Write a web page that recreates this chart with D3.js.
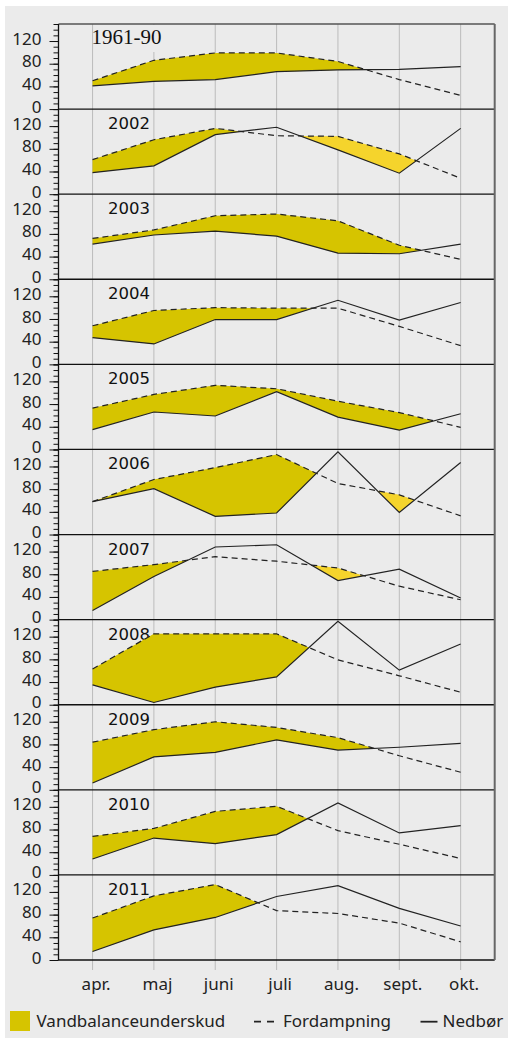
<!DOCTYPE html>
<html>
<head>
<meta charset="utf-8">
<script src="https://cdn.jsdelivr.net/npm/d3@7"></script>
<style>
  body { margin: 0; background: #fff; }
  svg { display: block; }
</style>
</head>
<body>
<svg id="chart" width="508" height="1043"></svg>
<script>
// months on the x axis
var months = ["apr.", "maj", "juni", "juli", "aug.", "sept.", "okt."];

// one panel per period
var periods = ["1961-90", "2002", "2003", "2004", "2005", "2006", "2007", "2008", "2009", "2010", "2011"];

// Fordampning (mm), one row per period
var evaporation = [
  [50, 86, 99, 99, 84, 52, 24],
  [61, 96, 116, 103, 102, 71, 28],
  [72, 87, 112, 115, 103, 60, 35],
  [68, 95, 100, 99, 99, 67, 33],
  [73, 97, 113, 107, 85, 65, 39],
  [58, 97, 118, 141, 90, 70, 33],
  [85, 97, 111, 103, 91, 59, 35],
  [63, 125, 125, 125, 79, 51, 22],
  [84, 106, 120, 110, 92, 60, 31],
  [68, 82, 112, 121, 78, 54, 29],
  [74, 113, 133, 87, 82, 65, 32]
];

// Nedbør (mm), one row per period
var precipitation = [
  [41, 49, 52, 66, 69, 70, 75],
  [38, 50, 105, 118, 78, 37, 116],
  [62, 78, 85, 76, 46, 45, 62],
  [47, 36, 79, 79, 113, 78, 109],
  [35, 66, 59, 102, 57, 34, 63],
  [58, 81, 32, 38, 146, 39, 127],
  [16, 76, 128, 132, 69, 89, 38],
  [35, 4, 31, 49, 147, 61, 107],
  [12, 58, 66, 88, 70, 75, 82],
  [28, 65, 55, 71, 127, 74, 87],
  [15, 53, 75, 112, 131, 91, 60]
];

var yLabels = [0, 40, 80, 120];

var legendItems = ["Vandbalanceunderskud", "Fordampning", "Nedbør"];

// layout (note: "top" is taken by window.top, so plot* names)
var plotLeft = 58.5, plotRight = 494.7, plotTop = 24, plotBottom = 960
  , panelH = (plotBottom - plotTop) / periods.length
  , bg = "#ebebeb"
  , darkFill = "#d6c400"
  , lightFill = "#f5d42c"
  , font = "'Noto Sans', sans-serif";

var svg = d3.select("#chart");

svg.append("rect")
    .attr("x", 5).attr("y", 6)
    .attr("width", 503).attr("height", 1032)
    .attr("fill", bg);

var x = d3.scalePoint()
    .domain(months)
    .range([plotLeft, plotRight])
    .padding(0.555);

// fractional month index -> pixel (for crossing points)
function xAt(i) {
  return x(months[0]) + i * x.step();
}

// split the curves into polygons where evaporation > precipitation
function deficitAreas(ev, pr) {
  var polys = [], cur = null;
  for (var i = 0; i < ev.length; i++) {
    var d = ev[i] - pr[i];
    if (d >= 0) {
      if (!cur) cur = [];
      cur.push({i: i, e: ev[i], p: pr[i]});
    }
    if (i < ev.length - 1) {
      var d2 = ev[i + 1] - pr[i + 1];
      if ((d >= 0) !== (d2 >= 0)) {
        var t = d / (d - d2);
        var v = ev[i] + t * (ev[i + 1] - ev[i]);
        var pt = {i: i + t, e: v, p: v};
        if (d >= 0) { cur.push(pt); polys.push(cur); cur = null; }
        else { cur = [pt]; }
      }
    }
  }
  if (cur) polys.push(cur);
  return polys;
}

// vertical grid lines through all panels
svg.append("g").selectAll("line")
    .data(months)
   .enter().append("line")
    .attr("x1", function(d) { return x(d); })
    .attr("x2", function(d) { return x(d); })
    .attr("y1", plotTop).attr("y2", plotBottom + 10)
    .attr("stroke", "#bcbcbc")
    .attr("stroke-width", 1);

periods.forEach(function(name, k) {
  var y0 = plotTop + (k + 1) * panelH
    , y = d3.scaleLinear().domain([0, 150]).range([y0, y0 - panelH]);

  var g = svg.append("g").attr("class", "panel");

  // period label with a background patch
  var label = g.append("text")
      .attr("x", k === 0 ? 91.5 : 108)
      .attr("y", y0 - panelH + 20)
      .attr("font-family", k === 0 ? "'Liberation Serif', serif" : "'DejaVu Sans', sans-serif")
      .attr("font-size", k === 0 ? 21 : 16.5)
      .attr("fill", "#111")
      .text(name);
  var bb = label.node().getBBox();
  g.insert("rect", "text")
      .attr("x", bb.x + 3).attr("y", bb.y)
      .attr("width", bb.width).attr("height", bb.height + 3)
      .attr("fill", bg);

  // deficit fill
  var area = d3.area()
      .x(function(d) { return xAt(d.i); })
      .y0(function(d) { return y(d.p); })
      .y1(function(d) { return y(d.e); });

  g.selectAll("path.deficit")
      .data(deficitAreas(evaporation[k], precipitation[k]))
     .enter().append("path")
      .attr("class", "deficit")
      .attr("fill", function(d, i) { return i === 0 ? darkFill : lightFill; })
      .attr("d", area);

  var line = d3.line()
      .x(function(d, i) { return x(months[i]); })
      .y(function(d) { return y(d); });

  g.append("path")
      .attr("d", line(evaporation[k]))
      .attr("fill", "none")
      .attr("stroke", "#222")
      .attr("stroke-width", 1.2)
      .attr("stroke-dasharray", "6,4");

  g.append("path")
      .attr("d", line(precipitation[k]))
      .attr("fill", "none")
      .attr("stroke", "#222")
      .attr("stroke-width", 1.2);

  // minor + major ticks on the left
  var minor = g.append("g")
      .attr("transform", "translate(" + plotLeft + ",0)")
      .call(d3.axisLeft(y).tickValues(d3.range(0, 151, 10)).tickSize(5).tickFormat(""));
  minor.select(".domain").remove();

  var major = g.append("g")
      .attr("transform", "translate(" + plotLeft + ",0)")
      .call(d3.axisLeft(y).tickValues(yLabels).tickSize(9).tickPadding(8));
  major.select(".domain").remove();
  major.selectAll("text")
      .attr("y", -2.4)
      .attr("font-family", font)
      .attr("font-size", 17)
      .attr("fill", "#222");
  g.selectAll(".tick line").attr("stroke", "#111");

  // zero line / panel separator
  g.append("line")
      .attr("x1", plotLeft).attr("x2", plotRight)
      .attr("y1", y0).attr("y2", y0)
      .attr("stroke", "#111")
      .attr("stroke-width", 1.3);
});

// frame
svg.append("line")
    .attr("x1", plotLeft).attr("x2", plotRight)
    .attr("y1", plotTop).attr("y2", plotTop)
    .attr("stroke", "#555").attr("stroke-width", 1.4);
svg.append("line")
    .attr("x1", plotRight).attr("x2", plotRight)
    .attr("y1", plotTop).attr("y2", plotBottom)
    .attr("stroke", "#666").attr("stroke-width", 2);
svg.append("line")
    .attr("x1", plotLeft).attr("x2", plotLeft)
    .attr("y1", plotTop).attr("y2", plotBottom)
    .attr("stroke", "#111").attr("stroke-width", 1.3);

// month labels
svg.append("g").selectAll("text")
    .data(months)
   .enter().append("text")
    .attr("x", function(d) { return x(d) + 3.5; })
    .attr("y", 990)
    .attr("text-anchor", "middle")
    .attr("font-family", font)
    .attr("font-size", 17)
    .attr("fill", "#222")
    .text(function(d) { return d; });

// legend
var lg = svg.append("g");
lg.append("rect")
    .attr("x", 10).attr("y", 1011)
    .attr("width", 20).attr("height", 20)
    .attr("fill", darkFill);
lg.append("line")
    .attr("x1", 254).attr("x2", 277.5)
    .attr("y1", 1021.7).attr("y2", 1021.7)
    .attr("stroke", "#222").attr("stroke-width", 1.8)
    .attr("stroke-dasharray", "7,6");
lg.append("line")
    .attr("x1", 420.5).attr("x2", 437.5)
    .attr("y1", 1021.7).attr("y2", 1021.7)
    .attr("stroke", "#222").attr("stroke-width", 1.8);
lg.selectAll("text")
    .data(legendItems)
   .enter().append("text")
    .attr("x", function(d, i) { return [36.5, 283, 442.5][i]; })
    .attr("y", 1027)
    .attr("font-family", font)
    .attr("font-size", 17)
    .attr("fill", "#222")
    .text(function(d) { return d; });
</script>
</body>
</html>
